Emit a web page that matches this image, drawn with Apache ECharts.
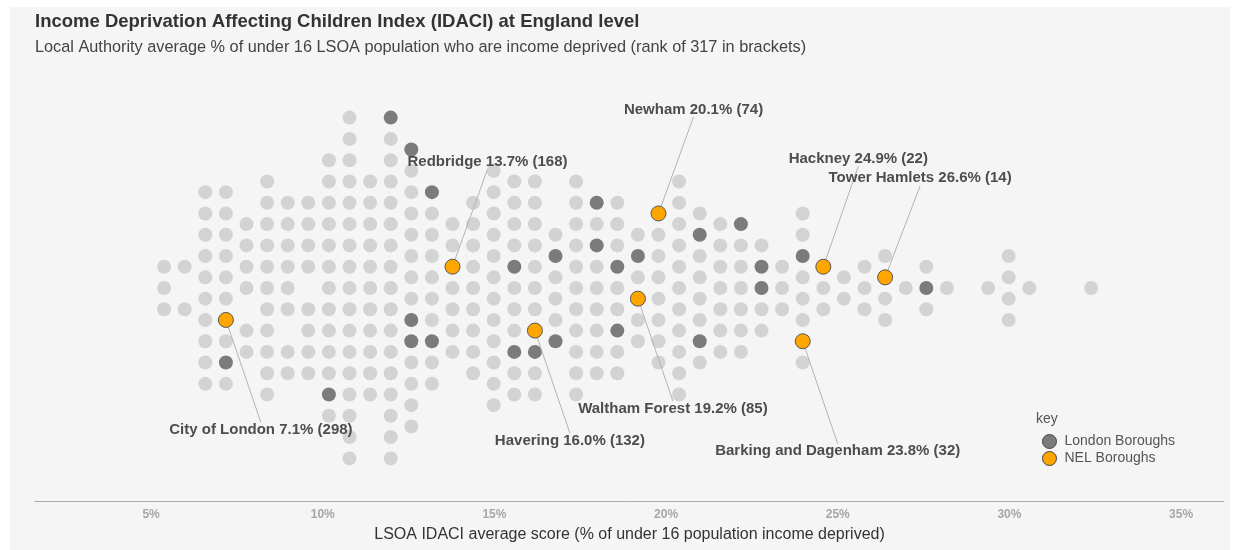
<!DOCTYPE html>
<html>
<head>
<meta charset="utf-8">
<script src="https://cdn.jsdelivr.net/npm/echarts@6/dist/echarts.min.js"></script>
<style>
  html, body { margin: 0; padding: 0; background: #fff; }
  #panel { position: absolute; left: 10px; top: 7px; width: 1220px; height: 543px; background: #f5f5f5; }
  #chart { position: absolute; left: 0; top: 0; width: 1233px; height: 550px; }
</style>
</head>
<body>
<div id="panel"></div>
<div id="chart"></div>
<script>
// centre of each column of dots (LSOA IDACI average score, %)
const binScore = [5.38, 5.98, 6.58, 7.18, 7.78, 8.38, 8.98, 9.58, 10.18, 10.78,
  11.38, 11.98, 12.58, 13.18, 13.78, 14.38, 14.98, 15.58, 16.18, 16.78,
  17.38, 17.98, 18.58, 19.18, 19.78, 20.38, 20.98, 21.58, 22.18, 22.78,
  23.38, 23.98, 24.58, 25.18, 25.78, 26.38, 26.98, 27.58, 28.18, 29.38,
  29.98, 30.58, 32.38];

// the local authorities stacked in each column, as half-row offsets from the centre line
const binRows = [
  [2, 0, -2],
  [2, -2],
  [9, 7, 5, 3, 1, -1, -3, -5, -7, -9],
  [9, 7, 5, 3, 1, -1, -3, -5, -7, -9],
  [6, 4, 2, 0, -4, -6],
  [10, 8, 6, 4, 2, 0, -2, -4, -6, -8, -10],
  [8, 6, 4, 2, 0, -2, -6, -8],
  [8, 6, 4, 2, -2, -4, -6, -8],
  [12, 10, 8, 6, 4, 2, 0, -2, -4, -6, -8, -10, -12],
  [16, 14, 12, 10, 8, 6, 4, 2, 0, -2, -4, -6, -8, -10, -12, -14, -16],
  [10, 8, 6, 4, 2, 0, -2, -4, -6, -8, -10],
  [16, 14, 12, 10, 8, 6, 4, 2, 0, -2, -4, -6, -8, -10, -12, -14, -16],
  [13, 11, 9, 7, 5, 3, 1, -1, -3, -5, -7, -9, -11, -13],
  [9, 7, 5, 3, 1, -1, -3, -5, -7, -9],
  [6, 4, 2, 0, -2, -4, -6],
  [8, 6, 4, 2, 0, -2, -4, -6, -8],
  [11, 9, 7, 5, 3, 1, -1, -3, -5, -7, -9, -11],
  [10, 8, 6, 4, 2, 0, -2, -4, -6, -8, -10],
  [10, 8, 6, 4, 2, 0, -2, -4, -6, -8, -10],
  [5, 3, 1, -1, -3, -5],
  [10, 8, 6, 4, 2, 0, -2, -4, -6, -8, -10],
  [8, 6, 4, 2, 0, -2, -4, -6, -8],
  [8, 6, 4, 2, 0, -2, -4, -6, -8],
  [5, 3, 1, -1, -3, -5],
  [7, 5, 3, 1, -1, -3, -5, -7],
  [10, 8, 6, 4, 2, 0, -2, -4, -6, -8, -10],
  [7, 5, 3, 1, -1, -3, -5, -7],
  [6, 4, 2, 0, -2, -4, -6],
  [6, 4, 2, 0, -2, -4, -6],
  [4, 2, 0, -2, -4],
  [2, 0, -2],
  [7, 5, 3, 1, -1, -3, -5, -7],
  [2, 0, -2],
  [1, -1],
  [2, 0, -2],
  [3, 1, -1, -3],
  [0],
  [2, 0, -2],
  [0],
  [0],
  [3, 1, -1, -3],
  [0],
  [0]
];

// London boroughs (outside NEL): column index and row offset
const londonBin = [3, 8, 11, 12, 12, 12, 13, 13, 17, 17, 18, 19, 19, 21, 21, 22, 22, 23, 26, 26, 28, 29, 29, 31, 37];
const londonRow = [-7, -10, 16, 13, -3, -5, 9, -5, 2, -6, -6, 3, -5, 8, 4, 2, -4, 3, 5, -5, 6, 2, 0, 3, 0];

// NEL boroughs
const nelNames = ['City of London', 'Redbridge', 'Newham', 'Hackney', 'Tower Hamlets',
  'Waltham Forest', 'Havering', 'Barking and Dagenham'];
const nelScore = [7.1, 13.7, 20.1, 24.9, 26.6, 19.2, 16.0, 23.8];
const nelRank = [298, 168, 74, 22, 14, 85, 132, 32];
const nelBin = [3, 14, 24, 32, 35, 23, 18, 31];
const nelRow = [-3, 2, 7, 2, 1, -1, -4, -5];

const xTicks = [5, 10, 15, 20, 25, 30, 35];

const FONT = '"Liberation Sans", Arial, sans-serif';

const taken = new Set();
londonBin.forEach((b, i) => taken.add(b + ':' + londonRow[i]));
nelBin.forEach((b, i) => taken.add(b + ':' + nelRow[i]));

const otherDots = [];
binRows.forEach((rows, b) => {
  rows.forEach(h => {
    if (!taken.has(b + ':' + h)) otherDots.push([binScore[b], h]);
  });
});
const londonDots = londonBin.map((b, i) => [binScore[b], londonRow[i]]);
const nelDots = nelBin.map((b, i) => ({ name: nelNames[i], value: [binScore[b], nelRow[i]] }));

// how far some annotations sit above their dot (px)
const labelNudge = { 'Hackney': -108, 'Tower Hamlets': -99, 'Newham': -104 };

const chart = echarts.init(document.getElementById('chart'));

const option = {
  backgroundColor: 'transparent',
  animation: false,
  textStyle: { fontFamily: FONT },
  title: {
    text: 'Income Deprivation Affecting Children Index (IDACI) at England level',
    subtext: 'Local Authority average % of under 16 LSOA population who are income deprived (rank of 317 in brackets)',
    left: 35,
    top: 12,
    padding: 0,
    itemGap: 9,
    textStyle: { fontSize: 18.5, fontWeight: 'bold', color: '#333', fontFamily: FONT },
    subtextStyle: { fontSize: 16.3, color: '#444', fontFamily: FONT }
  },
  graphic: [{
    type: 'text',
    left: 1036,
    top: 412,
    style: { text: 'key', fontSize: 14, fill: '#555', fontFamily: FONT }
  }],
  legend: {
    orient: 'vertical',
    left: 1042,
    top: 434,
    padding: 0,
    itemWidth: 14,
    itemHeight: 14,
    itemGap: 2,
    icon: 'circle',
    selectedMode: false,
    textStyle: { fontSize: 14, color: '#555', fontFamily: FONT, padding: [0, 0, 0, 3] },
    data: [
      { name: 'London Boroughs', itemStyle: { borderColor: '#444', borderWidth: 1 } },
      { name: 'NEL Boroughs', itemStyle: { borderColor: '#444', borderWidth: 1 } }
    ]
  },
  grid: { left: 35, right: 9, top: 75, bottom: 49 },
  xAxis: {
    type: 'value',
    min: 1.62,
    max: 36.25,
    splitLine: { show: false },
    axisTick: { show: false },
    axisLine: { onZero: false, lineStyle: { color: '#aaa', width: 1 } },
    axisLabel: {
      showMinLabel: false,
      showMaxLabel: false,
      margin: 8,
      fontSize: 12,
      fontWeight: 'bold',
      color: '#a6a6a6',
      formatter: v => xTicks.includes(v) ? v + '%' : ''
    },
    name: 'LSOA IDACI average score (% of under 16 population income deprived)',
    nameLocation: 'middle',
    nameGap: 26,
    nameTextStyle: { fontSize: 16, color: '#333', fontFamily: FONT }
  },
  yAxis: {
    type: 'value',
    min: -20,
    max: 20,
    show: false
  },
  series: [
    {
      name: 'Other LAs',
      type: 'scatter',
      symbolSize: 14,
      data: otherDots,
      itemStyle: { color: '#d3d3d3', opacity: 1 },
      emphasis: { disabled: true },
      z: 2
    },
    {
      name: 'London Boroughs',
      type: 'scatter',
      symbolSize: 14,
      data: londonDots,
      itemStyle: { color: '#7b7b7b', opacity: 1 },
      emphasis: { disabled: true },
      z: 3
    },
    {
      name: 'NEL Boroughs',
      type: 'scatter',
      symbolSize: 15,
      data: nelDots,
      itemStyle: { color: '#ffa500', borderColor: '#555', borderWidth: 1, opacity: 1 },
      emphasis: { disabled: true },
      z: 4,
      label: {
        show: true,
        position: 'inside',
        fontSize: 15,
        fontWeight: 'bold',
        color: '#4d4d4d',
        fontFamily: FONT,
        formatter: p => {
          const i = p.dataIndex;
          return nelNames[i] + ' ' + nelScore[i].toFixed(1) + '% (' + nelRank[i] + ')';
        }
      },
      labelLayout: p => {
        const name = nelNames[p.dataIndex];
        const dy = labelNudge[name] || (nelRow[p.dataIndex] > 0 ? -105 : 110);
        return { dx: 35, dy: dy };
      },
      labelLine: { show: true, length2: 0, lineStyle: { color: '#b3b3b3', width: 1 } }
    }
  ]
};

chart.setOption(option);
</script>
</body>
</html>
